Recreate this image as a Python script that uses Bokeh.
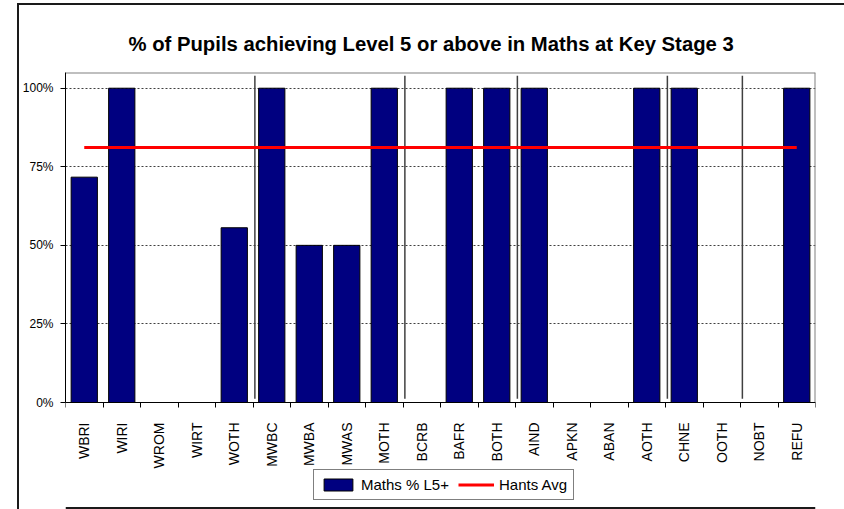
import math
from bokeh.plotting import figure
from bokeh.models import FixedTicker, Range1d, LegendItem, Legend
from bokeh.embed import file_html
from bokeh.resources import INLINE

categories = ["WBRI", "WIRI", "WROM", "WIRT", "WOTH", "MWBC", "MWBA", "MWAS",
              "MOTH", "BCRB", "BAFR", "BOTH", "AIND", "APKN", "ABAN", "AOTH",
              "CHNE", "OOTH", "NOBT", "REFU"]
maths_pct = [71.7, 100, 0, 0, 55.6, 100, 50, 50, 100, 0, 100, 100, 100, 0, 0,
             100, 100, 0, 0, 100]
hants_avg = [81.1, 81.1, 81.1, 81.1, 81.1, 81.1, 81.1, 81.1, 81.1, 81.1,
             81.1, 81.1, 81.1, 81.1, 81.1, 81.1, 81.1, 81.1, 81.1, 81.1]
group_starts = ["MWBC", "BCRB", "AIND", "CHNE", "NOBT"]
y_ticks = [0, 25, 50, 75, 100]
y_tick_labels = ["0%", "25%", "50%", "75%", "100%"]

FONT = "Liberation Sans"
n = len(categories)
xc = [i + 0.5 for i in range(n)]

Y_TOP = 105
PLOT_H = 330                      # pixel height of the 0..105 value area
PX = PLOT_H / Y_TOP               # pixels per percentage point
EXTRA = 107                       # room below 0 for labels and legend
Y_MIN = -EXTRA / PX

p = figure(frame_width=750, frame_height=PLOT_H + EXTRA,
           x_range=Range1d(0, n), y_range=Range1d(Y_MIN, Y_TOP),
           output_backend="svg", toolbar_location=None,
           min_border_left=45, min_border_right=30, min_border_top=67,
           min_border_bottom=20,
           title="% of Pupils achieving Level 5 or above in Maths at Key Stage 3")
p.margin = (3, 0, 0, 17)
p.styles = {"border-left": "2px solid #1a1a1a",
            "border-top": "2px solid #1a1a1a"}
p.background_fill_color = "white"
p.border_fill_color = "white"
p.outline_line_color = None

p.title.text_font = FONT
p.title.text_font_size = "20.3px"
p.title.text_font_style = "bold"
p.title.text_color = "black"
p.title.align = "left"
p.title.offset = 63
p.title.standoff = 36

# x axis, drawn at the zero line
p.xaxis.fixed_location = 0
p.xaxis.ticker = FixedTicker(ticks=xc, minor_ticks=list(range(n + 1)))
p.xaxis.major_label_overrides = {x: c for x, c in zip(xc, categories)}
p.xaxis.major_label_orientation = math.pi / 2
p.xaxis.major_tick_out = 0
p.xaxis.major_tick_in = 0
p.xaxis.minor_tick_out = 5
p.xaxis.minor_tick_in = 0
p.xaxis.minor_tick_line_color = "black"
p.xaxis.axis_line_color = "black"
p.xaxis.major_label_text_font = FONT
p.xaxis.major_label_text_font_size = "14px"
p.xaxis.major_label_text_color = "black"
p.xaxis.major_label_standoff = 15

# y axis
p.yaxis.bounds = (0, Y_TOP)
p.yaxis.ticker = FixedTicker(ticks=y_ticks, minor_ticks=[])
p.yaxis.major_label_overrides = {t: l for t, l in zip(y_ticks, y_tick_labels)}
p.yaxis.major_tick_out = 5
p.yaxis.major_tick_in = 0
p.yaxis.major_tick_line_color = "black"
p.yaxis.axis_line_color = "black"
p.yaxis.major_label_text_font = FONT
p.yaxis.major_label_text_font_size = "12px"
p.yaxis.major_label_text_color = "black"
p.yaxis.major_label_standoff = 7

p.xgrid.grid_line_color = None
p.ygrid.grid_line_color = "#404040"
p.ygrid.grid_line_dash = "2 2"
p.ygrid.grid_line_width = 1

# plot-area edges (top and right, grey) and outer chart border (bottom)
p.segment(x0=[0, n], y0=[Y_TOP, 0], x1=[n, n], y1=[Y_TOP, Y_TOP],
          line_color="#808080", line_width=2)
y_edge = Y_MIN + 1.5 / PX
p.segment(x0=[0], y0=[y_edge], x1=[n], y1=[y_edge],
          line_color="#1a1a1a", line_width=2)

bars = p.vbar(x=xc, top=maths_pct, width=0.7, bottom=0,
              fill_color="#000080", line_color="black", line_width=1)

sep_x = [categories.index(g) + 0.05 for g in group_starts]
p.segment(x0=sep_x, y0=[1.2] * len(sep_x), x1=sep_x, y1=[104] * len(sep_x),
          line_color="#404040", line_width=1.5)

avg = p.line(xc, hants_avg, line_color="#FF0000", line_width=3)

legend = Legend(items=[LegendItem(label="Maths % L5+", renderers=[bars]),
                       LegendItem(label="Hants Avg", renderers=[avg])],
                location=(248, 9), orientation="horizontal")
legend.border_line_color = "black"
legend.border_line_width = 1
legend.background_fill_color = "white"
legend.background_fill_alpha = 1
legend.padding = 6
legend.margin = 0
legend.spacing = 9
legend.glyph_width = 36
legend.glyph_height = 15
legend.label_height = 15
legend.label_standoff = 5
legend.label_text_font = FONT
legend.label_text_font_size = "15px"
legend.label_text_color = "black"
p.add_layout(legend, "center")

open("out.html", "w").write(file_html(p, INLINE))
